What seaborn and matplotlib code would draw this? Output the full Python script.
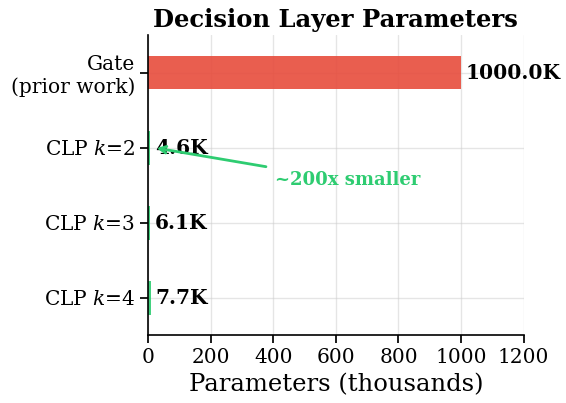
import numpy as np
import pandas as pd
import seaborn as sns
import matplotlib.pyplot as plt

# parameter counts in thousands
methods = ["Gate\n(prior work)", "CLP $k$=2", "CLP $k$=3", "CLP $k$=4"]
params_k = [1000.0, 4.6, 6.1, 7.7]
colors = ["#e74c3c", "#2ecc71", "#2ecc71", "#2ecc71"]

data = pd.DataFrame({"method": methods, "params": params_k})

sns.set_theme(style="whitegrid")
plt.rcParams["font.family"] = ["DejaVu Serif"]
plt.rcParams["mathtext.fontset"] = "dejavuserif"
for key in ["text.color", "axes.labelcolor", "xtick.color", "ytick.color"]:
    plt.rcParams[key] = "black"

fig, ax = plt.subplots(figsize=(5.66, 4.03), dpi=100)
sns.barplot(data=data, x="params", y="method", hue="method", palette=colors,
            orient="h", width=0.45, legend=False, ax=ax, saturation=1,
            alpha=0.9, linewidth=0)

for i, v in enumerate(params_k):
    ax.text(v + 16, i, f"{v:.1f}K", va="center", ha="left",
            fontsize=14.5, fontweight="bold")

ax.annotate("", xy=(18, 1.0), xytext=(385, 1.26),
            arrowprops=dict(arrowstyle="->", color="#2ecc71", lw=2))
ax.text(405, 1.43, "~200x smaller", color="#2ecc71", fontsize=13,
        fontweight="bold", va="center", ha="left")

ax.set_xlim(0, 1200)
ax.set_xticks(np.arange(0, 1201, 200))
ax.set_title("Decision Layer Parameters", fontsize=17.5, fontweight="bold")
ax.set_xlabel("Parameters (thousands)", fontsize=17.5)
ax.set_ylabel("")
ax.tick_params(axis="both", labelsize=14.5, length=6, color="black", left=True, bottom=True)
ax.grid(True, alpha=0.5)
for s in ["top", "right"]:
    ax.spines[s].set_visible(False)
for s in ["left", "bottom"]:
    ax.spines[s].set_color("black")
    ax.spines[s].set_linewidth(1.2)

fig.subplots_adjust(left=0.262, right=0.925, top=0.913, bottom=0.168)
fig.savefig("out.png", dpi=100)
